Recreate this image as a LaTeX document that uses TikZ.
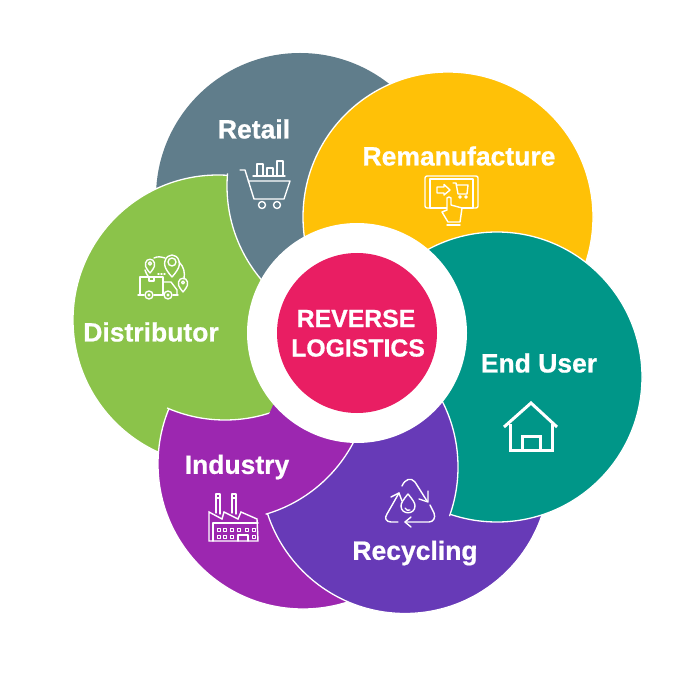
\documentclass[tikz,border=0pt]{standalone}
\usepackage{fontspec}
\setmainfont[BoldFeatures={FakeBold=0.7}]{Liberation Sans}
\definecolor{cgray}{HTML}{607D8B}
\definecolor{cyellow}{HTML}{FFC107}
\definecolor{cteal}{HTML}{009688}
\definecolor{cpurple}{HTML}{673AB7}
\definecolor{cviolet}{HTML}{9C27B0}
\definecolor{cgreen}{HTML}{8BC34A}
\definecolor{cpink}{HTML}{E91E63}
\tikzset{
 petal/.style={draw=white,line width=1.3pt},
 lab/.style={text=white,font=\bfseries\fontsize{26.5}{28}\selectfont,inner sep=0pt,anchor=center},
 mainlab/.style={text=white,font=\bfseries\fontsize{24.8}{26}\selectfont,inner sep=0pt,anchor=center},
 ico/.style={draw=white,line width=1.4pt,line join=round,line cap=round},
 icob/.style={draw=white,line width=3pt,line join=miter,line cap=butt},
}
\begin{document}
\begin{tikzpicture}[x=1pt,y=-1pt]
\useasboundingbox (0,0) rectangle (700,700);
\fill[white] (0,0) rectangle (700,700);
% petals in painter's order; each lobe is clipped to the petal it bites
\fill[cgray] (300,197) circle[radius=144pt];
\filldraw[petal,fill=cgreen] (218,320) circle[radius=145pt];
\begin{scope}\clip (218,320) circle[radius=147pt];
\filldraw[petal,fill=cgray] (372,186) circle[radius=145pt];\end{scope}
\filldraw[petal,fill=cyellow] (448,217) circle[radius=145pt];
\filldraw[petal,fill=cviolet] (303,464) circle[radius=145pt];
\begin{scope}\clip (303,464) circle[radius=147pt];
\filldraw[petal,fill=cgreen] (225,275) circle[radius=145pt];\end{scope}
\filldraw[petal,fill=cpurple] (405,469) circle[radius=144.5pt];
\begin{scope}\clip (405,469) circle[radius=146.5pt];
\filldraw[petal,fill=cviolet] (225,375) circle[radius=145pt];\end{scope}
\filldraw[petal,fill=cteal] (497,377) circle[radius=145pt];
\begin{scope}\clip (497,377) circle[radius=147pt];
\filldraw[petal,fill=cpurple] (313,467) circle[radius=145pt];\end{scope}
\fill[white] (357,333) circle[radius=110pt];
\fill[cpink] (357,333) circle[radius=80pt];
% cart
\draw[ico] (240,170)--(245,170)--(254,199)--(284,199)--(290,181)--(248,181);
\draw[ico] (253,176)--(285,176);
\draw[ico] (257,175)--(257,164)--(263,164)--(263,175);
\draw[ico] (267,175)--(267,168)--(273,168)--(273,175);
\draw[ico] (277,175)--(277,161)--(283,161)--(283,175);
\draw[ico] (262,205) circle[radius=3.5pt] (277,205) circle[radius=3.5pt];
% tablet
\draw[ico,rounded corners=2pt] (425,176) rectangle (478,208);
\draw[ico] (430,179) rectangle (473,208);
\draw[ico] (437,187)--(444,187)--(444,184.5)--(450,190)--(444,195)--(444,193)--(437,193)--cycle;
\draw[ico] (453,183)--(456,183)--(458,194)--(467,194)--(468,185)--(456,185);
\draw[ico] (460,197) circle[radius=1.2pt] (466,197) circle[radius=1.2pt];
\filldraw[ico,fill=cyellow] (449,197)--(447,198)--(447,210)--(442,212)--(448,222)--(460,222)--(462,208)--(451,205)--(451,198)--cycle;
\draw[ico] (447,225)--(460,225);
% truck and pins
\draw[ico] (140,295)--(140,277)--(163,277)--(163,295);
\draw[ico] (149,277)--(149,281)--(154,281)--(154,277);
\draw[ico] (163,282)--(171,282)--(177,290)--(177,295);
\draw[ico] (138,295)--(144,295) (154,295)--(163,295) (173,295)--(178,295);
\draw[ico] (149,295) circle[radius=4pt] (168,295) circle[radius=4pt];
\draw[ico] (149,295) circle[radius=.8pt] (168,295) circle[radius=.8pt];
\draw[ico] (158,274)--(159,274) (161,274)--(162,274) (164,274)--(165,274);
\draw[ico] (154,258) .. controls (158,256) and (161,257) .. (165,258);
\draw[ico] (179,262) .. controls (184,267) and (185,272) .. (184,279);
\draw[ico] (145,270) .. controls (146,273) and (147,275) .. (148,276);
\draw[ico] (172,277) .. controls (164,268) and (164,264) .. (165,261) .. controls (167,253) and (177,253) .. (179,261) .. controls (180,264) and (180,268) .. (172,277)--cycle;
\draw[ico] (172,262) circle[radius=4pt];
\draw[ico] (150,273) .. controls (145,267) and (145,265) .. (145.5,263) .. controls (146.5,258) and (153.5,258) .. (154.5,263) .. controls (155,265) and (155,267) .. (150,273)--cycle;
\draw[ico] (150,263.5) circle[radius=1.6pt];
\draw[ico] (183,292) .. controls (178,286) and (178,284) .. (178.5,282) .. controls (179.5,277) and (186.5,277) .. (187.5,282) .. controls (188,284) and (188,286) .. (183,292)--cycle;
\draw[ico] (183,282.5) circle[radius=1.5pt];
% factory
\draw[ico] (216,513)--(216,494)--(220,494)--(220,514);
\draw[ico] (232,513)--(232,494)--(236,494)--(236,514);
\draw[ico] (216,498)--(220,498) (232,498)--(236,498);
\draw[ico,line join=miter] (209,512)--(222,519)--(224,512)--(238,519)--(241,512)--(257,519)--(258,541)--(209,541)--cycle;
\draw[ico] (213,541)--(213,523)--(258,523);
\foreach \wx in {217,223,230,237,245,252}{\draw[ico,line width=1pt] (\wx,528) rectangle (\wx+3,531.5);}
\foreach \wx in {217,223,230,252}{\draw[ico,line width=1pt] (\wx,535) rectangle (\wx+3,538.5);}
\draw[ico] (238,541)--(238,535)--(248,535)--(248,541);
% recycling
\draw[ico] (402,486) .. controls (405,479) and (411,477) .. (415,482) -- (427,501);
\draw[ico] (428,491)--(428,502)--(419,499);
\draw[ico] (398,522)--(391,522) .. controls (386,522) and (384,518) .. (387,514) -- (399,493);
\draw[ico] (391,497)--(399,493)--(402,501);
\draw[ico] (430,505) -- (434,513) .. controls (436,518) and (433,522) .. (429,522) -- (405,522);
\draw[ico] (411,517)--(405,522)--(411,527);
\draw[ico] (408,494) .. controls (403,500) and (401,503) .. (401,506) .. controls (401,515) and (415,515) .. (415,506) .. controls (415,503) and (413,500) .. (408,494) -- cycle;
\draw[ico] (405,508) .. controls (406,510) and (408,511) .. (410,510);
% house
\draw[icob] (504,427)--(531,403)--(557,427);
\draw[icob] (510,424)--(510,450)--(552,450)--(552,424);
\draw[icob] (522,450)--(522,436)--(540,436)--(540,450);
% labels
\node[lab] (retail) at (254,129) {Retail};
\node[lab] (reman) at (459,156) {Remanufacture};
\node[lab] (enduser) at (539,363) {End User};
\node[lab] (recycling) at (415,553) {Recycling};
\node[lab] (industry) at (237,467) {Industry};
\node[lab] (distributor) at (151,332) {Distributor};
\node[mainlab] (rev) at (356,318.5) {REVERSE};
\node[mainlab] (logi) at (358,348) {LOGISTICS};
\end{tikzpicture}
\end{document}
